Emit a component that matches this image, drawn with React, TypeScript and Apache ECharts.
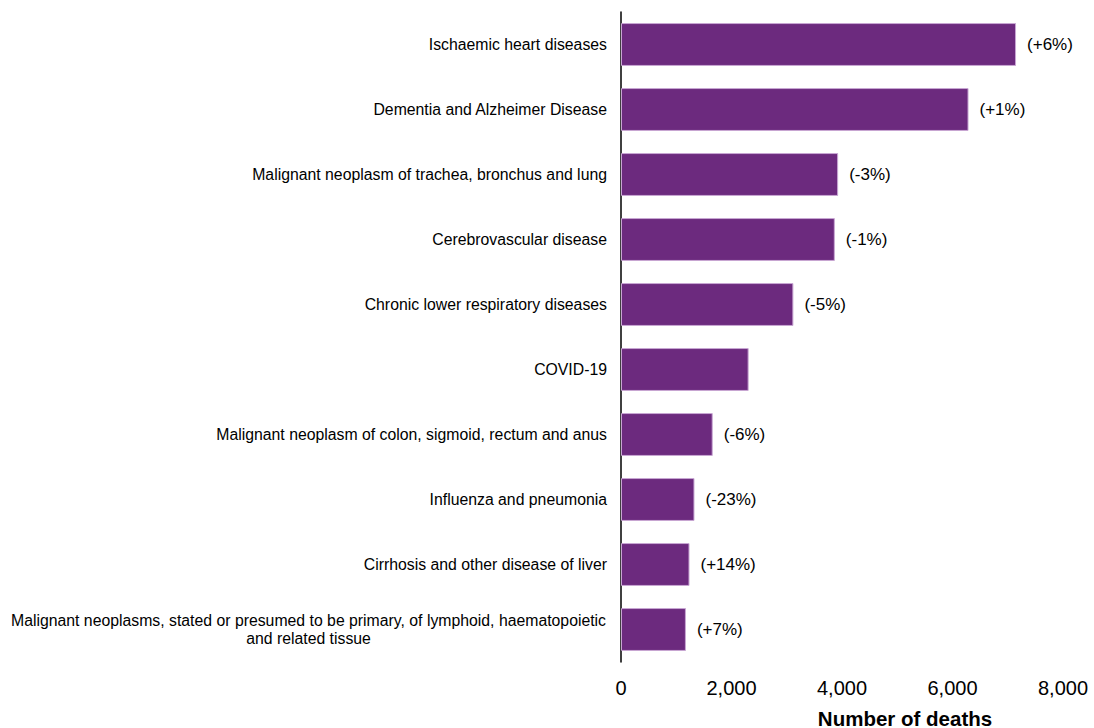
import React, { useEffect, useRef } from "react";
import * as echarts from "echarts";

const categories = [
  "Ischaemic heart diseases",
  "Dementia and Alzheimer Disease",
  "Malignant neoplasm of trachea, bronchus and lung",
  "Cerebrovascular disease",
  "Chronic lower respiratory diseases",
  "COVID-19",
  "Malignant neoplasm of colon, sigmoid, rectum and anus",
  "Influenza and pneumonia",
  "Cirrhosis and other disease of liver",
  "Malignant neoplasms, stated or presumed to be primary, of lymphoid, haematopoietic\nand related tissue",
];

const deaths = [7150, 6290, 3930, 3870, 3120, 2310, 1660, 1330, 1240, 1175];

const changeLabels = ["(+6%)", "(+1%)", "(-3%)", "(-1%)", "(-5%)", "", "(-6%)", "(-23%)", "(+14%)", "(+7%)"];

const xTicks = [0, 2000, 4000, 6000, 8000];

const FONT = "'Liberation Sans', Arial, sans-serif";
const CAT_SIZE = 15.8;

function measure(text: string, font: string): number {
  const c = document.createElement("canvas");
  const ctx = c.getContext("2d");
  if (!ctx) return text.length * 8;
  ctx.font = font;
  return ctx.measureText(text).width;
}

export default function App() {
  const ref = useRef<HTMLDivElement>(null);

  useEffect(() => {
    if (!ref.current) return;
    const chart = echarts.init(ref.current, undefined, { renderer: "svg" });
    const catFont = `${CAT_SIZE}px ${FONT}`;
    const rich: Record<string, any> = {};
    const catFormatter = (val: string) => {
      const idx = categories.indexOf(val);
      const lines = val.split("\n");
      if (lines.length === 1) return val;
      const w = Math.ceil(Math.max(...lines.map((l) => measure(l, catFont)))) + 1;
      const key = "c" + idx;
      rich[key] = {
        width: w,
        align: "center",
        fontSize: CAT_SIZE,
        fontFamily: FONT,
        color: "#000",
        lineHeight: 18,
      };
      return lines.map((l) => `{${key}|${l}}`).join("\n");
    };
    categories.forEach((c) => catFormatter(c));

    chart.setOption({
      animation: false,
      backgroundColor: "#ffffff",
      textStyle: { fontFamily: FONT, color: "#000" },
      grid: { left: 621, right: 31, top: 12, bottom: 66, containLabel: false },
      xAxis: {
        type: "value",
        min: xTicks[0],
        max: xTicks[xTicks.length - 1],
        interval: 2000,
        axisLine: { show: false },
        axisTick: { show: false },
        splitLine: { show: false },
        axisLabel: {
          fontSize: 20,
          color: "#000",
          fontFamily: FONT,
          margin: 16,
          formatter: (v: number) => v.toLocaleString("en-US"),
        },
      },
      yAxis: {
        type: "category",
        data: categories,
        inverse: true,
        axisLine: { show: true, lineStyle: { color: "#000", width: 1.5 } },
        axisTick: { show: false },
        axisLabel: {
          fontSize: CAT_SIZE,
          color: "#000",
          fontFamily: FONT,
          margin: 14,
          lineHeight: 18,
          align: "right",
          formatter: catFormatter,
          rich,
        },
      },
      graphic: [
        {
          type: "text",
          x: 905,
          y: 718,
          style: {
            text: "Number of deaths",
            textAlign: "center",
            textVerticalAlign: "middle",
            font: `bold 20.5px ${FONT}`,
            fill: "#000",
          },
        },
      ],
      series: [
        {
          type: "bar",
          data: deaths.map((v, i) => ({
            value: v,
            label: { formatter: changeLabels[i] },
          })),
          barWidth: "66%",
          itemStyle: { color: "#6c2a7e", borderColor: "#c8a6d3", borderWidth: 1 },
          label: {
            show: true,
            position: "right",
            distance: 11,
            fontSize: 17,
            color: "#000",
            fontFamily: FONT,
          },
        },
      ],
    });
    return () => chart.dispose();
  }, []);

  return (
    <div
      ref={ref}
      style={{ position: "fixed", left: 0, top: 0, width: 1094, height: 728 }}
    />
  );
}
